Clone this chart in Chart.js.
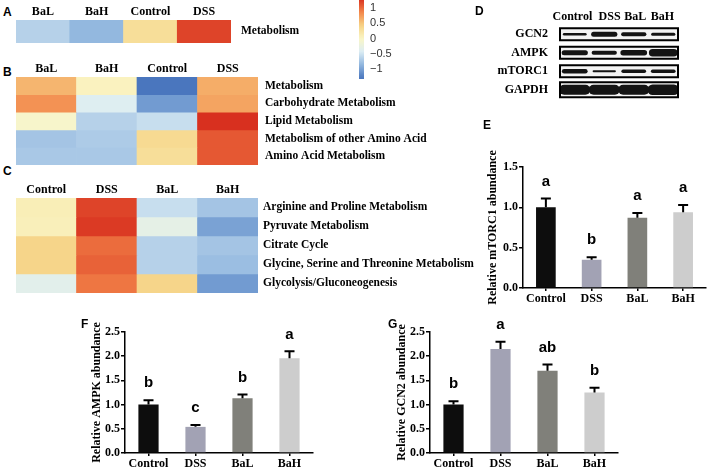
<!DOCTYPE html>
<html>
<head>
<meta charset="utf-8">
<script src="https://cdn.jsdelivr.net/npm/chart.js@4.4.1/dist/chart.umd.min.js"></script>
<style>
  body { margin: 0; background: #fff; }
  #wrap { position: relative; width: 708px; height: 469px; overflow: hidden; background: #fff; }
  canvas { position: absolute; }
  .lbl { position: absolute; font: bold 12px "Liberation Sans", Arial, sans-serif; color: #000; line-height: 12px; }
</style>
</head>
<body>
<div id="wrap">
  <canvas id="heatA" width="335" height="43" style="left:16px;top:0px"></canvas>
  <canvas id="heatB" width="422" height="110" style="left:16px;top:55px"></canvas>
  <canvas id="heatC" width="475" height="117" style="left:16px;top:176px"></canvas>
  <canvas id="cbar" width="50" height="79" style="left:359px;top:0px"></canvas>
  <canvas id="blot" width="215" height="105" style="left:470px;top:0px"></canvas>
  <canvas id="barE" width="228" height="160" style="left:480px;top:150px"></canvas>
  <canvas id="barF" width="240" height="149" style="left:80px;top:320px"></canvas>
  <canvas id="barG" width="240" height="149" style="left:385px;top:320px"></canvas>

  <div class="lbl" style="left:3px;top:6px">A</div>
  <div class="lbl" style="left:3px;top:66px">B</div>
  <div class="lbl" style="left:3px;top:165px">C</div>
  <div class="lbl" style="left:475px;top:5px">D</div>
  <div class="lbl" style="left:483px;top:119px">E</div>
  <div class="lbl" style="left:81px;top:318px">F</div>
  <div class="lbl" style="left:388px;top:318px">G</div>
</div>
<script>
// ---- heatmap data (row-scaled values) ----
const colsA = ['BaL', 'BaH', 'Control', 'DSS'];
const rowsA = ['Metabolism'];
const valsA = [[-0.65, -0.85, 0.3, 1.2]];

const colsB = ['BaL', 'BaH', 'Control', 'DSS'];
const rowsB = ['Metabolism', 'Carbohydrate Metabolism', 'Lipid Metabolism',
               'Metabolism of other Amino Acid', 'Amino Acid Metabolism'];
const valsB = [
  [0.6, 0.05, -1.3, 0.65],
  [0.8, -0.4, -1.05, 0.7],
  [-0.05, -0.65, -0.55, 1.3],
  [-0.75, -0.7, 0.35, 1.1],
  [-0.72, -0.72, 0.3, 1.1]
];

const colsC = ['Control', 'DSS', 'BaL', 'BaH'];
const rowsC = ['Arginine and Proline Metabolism', 'Pyruvate Metabolism', 'Citrate Cycle',
               'Glycine, Serine and Threonine Metabolism', 'Glycolysis/Gluconeogenesis'];
const valsC = [
  [0.1, 1.2, -0.55, -0.75],
  [0.08, 1.25, -0.3, -1.0],
  [0.4, 1.0, -0.65, -0.75],
  [0.4, 1.05, -0.65, -0.8],
  [-0.35, 0.95, 0.4, -1.05]
];

// colour key range and ticks
const cbMin = -1.33, cbMax = 1.27;
const cbTicks = [-1, -0.5, 0, 0.5, 1];

// ---- western blot band intensities (relative) ----
const blotLanes = ['Control', 'DSS', 'BaL', 'BaH'];
const blotRows = ['GCN2', 'AMPK', 'mTORC1', 'GAPDH'];
const bandGCN2 = [0.25, 0.5, 0.4, 0.3];
const bandAMPK = [0.5, 0.4, 0.55, 0.75];
const bandMTORC1 = [0.45, 0.2, 0.35, 0.35];
const bandGAPDH = [1.0, 1.0, 1.0, 1.05];

// ---- bar panels ----
const groups = ['Control', 'DSS', 'BaL', 'BaH'];
const mtorcMean = [1.0, 0.35, 0.87, 0.94];
const mtorcErr = [0.11, 0.03, 0.06, 0.09];
const mtorcSig = ['a', 'b', 'a', 'a'];
const ampkMean = [1.0, 0.54, 1.13, 1.96];
const ampkErr = [0.09, 0.04, 0.08, 0.14];
const ampkSig = ['b', 'c', 'b', 'a'];
const gcn2Mean = [1.0, 2.15, 1.7, 1.25];
const gcn2Err = [0.07, 0.15, 0.13, 0.1];
const gcn2Sig = ['b', 'a', 'ab', 'b'];

Chart.defaults.animation = false;
Chart.defaults.plugins.legend.display = false;
Chart.defaults.plugins.tooltip.enabled = false;
Chart.defaults.color = '#000';

const serifBold = { family: 'Liberation Serif', weight: 'bold', size: 12 };
const rowFont = { family: 'Liberation Serif', weight: 'bold', size: 11.5 };

// no automatic edge padding from tick labels, we place the plot areas ourselves
const fixV = w => s => { s.width = w; s.paddingTop = 0; s.paddingBottom = 0; };
const fixH = h => s => { s.height = h; s.paddingLeft = 0; s.paddingRight = 0; };

const rampVals = [-1.3, -0.87, -0.43, 0, 0.43, 0.87, 1.3];
const rampCols = ['#4a76be', '#8fb5de', '#dcedf4', '#faf6c6', '#f6d386', '#f3864a', '#d8301f'];

function hex2rgb(h) {
    return [parseInt(h.slice(1, 3), 16), parseInt(h.slice(3, 5), 16), parseInt(h.slice(5, 7), 16)];
}

function heatColor(v) {
    if (v <= rampVals[0]) return rampCols[0];
    for (let i = 1; i < rampVals.length; i++) {
        if (v <= rampVals[i]) {
            const t = (v - rampVals[i - 1]) / (rampVals[i] - rampVals[i - 1]);
            const a = hex2rgb(rampCols[i - 1]), b = hex2rgb(rampCols[i]);
            const c = a.map((x, k) => Math.round(x + (b[k] - x) * t));
            return `rgb(${c[0]},${c[1]},${c[2]})`;
        }
    }
    return rampCols[rampCols.length - 1];
}

function buildHeatmap(id, cols, rows, vals, topH, labelW, labelPad) {
    new Chart(document.getElementById(id), {
        type: 'bar',
        data: {
            labels: cols,
            datasets: rows.map((r, i) => ({
                label: r,
                data: cols.map(() => 1),
                backgroundColor: vals[i].map(heatColor),
                borderWidth: 0,
                barPercentage: 1,
                categoryPercentage: 1
            }))
        },
        options: {
            responsive: false,
            layout: { padding: 0 },
            scales: {
                x: {
                    position: 'top', stacked: true,
                    grid: { display: false, drawTicks: false }, border: { display: false },
                    ticks: { font: serifBold, padding: 1, maxRotation: 0, autoSkip: false },
                    afterFit: fixH(topH)
                },
                y: {
                    position: 'right', stacked: true, reverse: true,
                    min: 0, max: rows.length,
                    grid: { display: false, drawTicks: false }, border: { display: false },
                    afterBuildTicks: s => { s.ticks = rows.map((r, i) => ({ value: i + 0.5 })); },
                    ticks: { font: rowFont, padding: labelPad, autoSkip: false, callback: (v, i) => rows[i] },
                    afterFit: fixV(labelW)
                }
            }
        }
    });
}

buildHeatmap('heatA', colsA, rowsA, valsA, 20, 120, 10);
buildHeatmap('heatB', colsB, rowsB, valsB, 22, 180, 7);
buildHeatmap('heatC', colsC, rowsC, valsC, 22, 233, 5);

// colour key
new Chart(document.getElementById('cbar'), {
    type: 'bar',
    data: {
        labels: [''],
        datasets: [{
            data: [[cbMin, cbMax]],
            barPercentage: 1, categoryPercentage: 1, borderWidth: 0,
            backgroundColor: ctx => {
                const area = ctx.chart.chartArea;
                if (!area) return '#ccc';
                const g = ctx.chart.ctx.createLinearGradient(0, area.bottom, 0, area.top);
                for (let k = 0; k <= 20; k++) {
                    g.addColorStop(k / 20, heatColor(cbMin + (cbMax - cbMin) * k / 20));
                }
                return g;
            }
        }]
    },
    options: {
        responsive: false,
        layout: { padding: 0 },
        scales: {
            x: { display: false },
            y: {
                position: 'right', min: cbMin, max: cbMax,
                grid: { display: false, drawTicks: false }, border: { display: false },
                afterBuildTicks: s => { s.ticks = cbTicks.map(v => ({ value: v })); },
                ticks: {
                    color: '#333', padding: 6, autoSkip: false,
                    font: { family: 'Liberation Sans', size: 11 },
                    callback: v => v < 0 ? '\u2212' + Math.abs(v) : String(v)
                },
                afterFit: fixV(45)
            }
        }
    }
});

// western blot
const bandSets = [bandGCN2, bandAMPK, bandMTORC1, bandGAPDH];
const blotDatasets = [];
bandSets.forEach((bands, r) => {
    bands.forEach((b, l) => {
        blotDatasets.push({
            data: [{ x: l + 0.14, y: blotRows[r] }, { x: l + 0.86, y: blotRows[r] }],
            borderColor: '#141414',
            borderWidth: b * 10,
            borderCapStyle: 'round',
            pointRadius: 0
        });
    });
});
const boxH = [12, 12, 12, 15];
// lane headers sit a little off the lane centres in the original figure
const laneLabelAt = [0.42, 1.68, 2.55, 3.47];

new Chart(document.getElementById('blot'), {
    type: 'line',
    data: { datasets: blotDatasets },
    options: {
        responsive: false,
        layout: { padding: { right: 7, bottom: 6 } },
        scales: {
            x: {
                type: 'linear', position: 'top', min: 0, max: blotLanes.length,
                grid: { display: false, drawTicks: false }, border: { display: false },
                afterBuildTicks: s => { s.ticks = laneLabelAt.map(v => ({ value: v })); },
                ticks: { font: serifBold, padding: 1, maxRotation: 0, minRotation: 0, autoSkip: false,
                         callback: (v, i) => blotLanes[i] },
                afterFit: fixH(25)
            },
            y: {
                type: 'category', labels: blotRows, offset: true,
                grid: { display: false, drawTicks: false }, border: { display: false },
                ticks: { font: serifBold, padding: 12, autoSkip: false },
                afterFit: fixV(90)
            }
        }
    },
    plugins: [{
        id: 'blotFrames',
        beforeDatasetsDraw(chart) {
            const { ctx, chartArea: a, scales } = chart;
            ctx.save();
            blotRows.forEach((r, i) => {
                const y = scales.y.getPixelForValue(i);
                ctx.fillStyle = '#f3f3f3';
                ctx.fillRect(a.left, y - boxH[i] / 2, a.right - a.left, boxH[i]);
            });
            ctx.filter = 'blur(0.7px)';
        },
        afterDatasetsDraw(chart) {
            const { ctx, chartArea: a, scales } = chart;
            ctx.restore();
            ctx.save();
            ctx.strokeStyle = '#000';
            ctx.lineWidth = 2;
            blotRows.forEach((r, i) => {
                const y = scales.y.getPixelForValue(i);
                ctx.strokeRect(a.left, y - boxH[i] / 2, a.right - a.left, boxH[i]);
            });
            ctx.restore();
        }
    }]
});

// bar panels with error bars and letters
const barColors = ['#0d0d0d', '#a2a2b4', '#80807a', '#cdcdcd'];

function buildBars(id, title, means, errs, sig, ymax, pad, titlePad, yW, xH) {
    new Chart(document.getElementById(id), {
        type: 'bar',
        data: {
            labels: groups,
            datasets: [{
                data: means,
                backgroundColor: barColors,
                borderWidth: 0,
                barPercentage: 0.43,
                categoryPercentage: 1
            }]
        },
        options: {
            responsive: false,
            layout: { padding: { top: pad.top, right: pad.right, left: 0, bottom: 0 } },
            scales: {
                x: {
                    grid: { drawOnChartArea: false, offset: false, tickLength: 3, color: '#000', lineWidth: 1.5 },
                    border: { color: '#000', width: 1.5 },
                    ticks: { font: serifBold, padding: 1, maxRotation: 0, autoSkip: false },
                    afterFit: fixH(xH)
                },
                y: {
                    min: 0, max: ymax,
                    grid: { drawOnChartArea: false, tickLength: 4, color: '#000', lineWidth: 1.5 },
                    border: { color: '#000', width: 1.5 },
                    ticks: { font: serifBold, padding: 1, stepSize: 0.5, callback: v => v.toFixed(1) },
                    title: { display: true, text: title, font: serifBold, padding: { top: titlePad, bottom: 0 } },
                    afterFit: fixV(yW)
                }
            }
        },
        plugins: [{
            id: 'errLetters',
            afterDatasetsDraw(chart) {
                const { ctx, scales } = chart;
                ctx.save();
                ctx.strokeStyle = '#000';
                ctx.lineWidth = 2;
                ctx.fillStyle = '#000';
                ctx.font = 'bold 15px "Liberation Sans"';
                ctx.textAlign = 'center';
                ctx.textBaseline = 'middle';
                chart.getDatasetMeta(0).data.forEach((bar, i) => {
                    const yTop = scales.y.getPixelForValue(means[i] + errs[i]);
                    ctx.beginPath();
                    ctx.moveTo(bar.x, bar.y);
                    ctx.lineTo(bar.x, yTop);
                    ctx.moveTo(bar.x - 5, yTop);
                    ctx.lineTo(bar.x + 5, yTop);
                    ctx.stroke();
                    ctx.fillText(sig[i], bar.x, yTop - 17);
                });
                ctx.restore();
            }
        }]
    });
}

buildBars('barE', 'Relative mTORC1 abundance', mtorcMean, mtorcErr, mtorcSig, 1.5,
          { top: 17, right: 2 }, 6, 43, 22);
buildBars('barF', 'Relative AMPK abundance', ampkMean, ampkErr, ampkSig, 2.5,
          { top: 12, right: 7 }, 10, 45, 16);
buildBars('barG', 'Relative GCN2 abundance', gcn2Mean, gcn2Err, gcn2Sig, 2.5,
          { top: 12, right: 7 }, 10, 45, 16);
</script>
</body>
</html>
